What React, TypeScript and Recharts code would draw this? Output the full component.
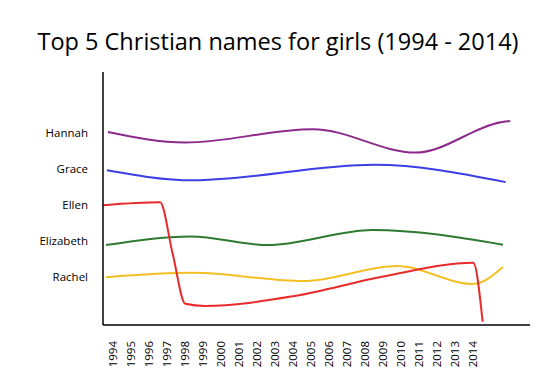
import React from 'react';
import { LineChart, Line, XAxis, YAxis } from 'recharts';

// y value 1..5 = Rachel..Hannah, lines wander around their own level
const NAMES = ['Rachel', 'Elizabeth', 'Ellen', 'Grace', 'Hannah'];
const YEAR_TICKS = [
  1994, 1995, 1996, 1997, 1998, 1999, 2000, 2001, 2002, 2003, 2004,
  2005, 2006, 2007, 2008, 2009, 2010, 2011, 2012, 2013, 2014,
];

const hannah = [
  { year: 1993.7, score: 5.03 },
  { year: 1998, score: 4.74 },
  { year: 2005.1, score: 5.11 },
  { year: 2010.8, score: 4.46 },
  { year: 2015.6, score: 5.31 },
  { year: 2016.05, score: 5.34 },
];

const grace = [
  { year: 1993.65, score: 3.97 },
  { year: 1998.4, score: 3.69 },
  { year: 2008.5, score: 4.12 },
  { year: 2015.8, score: 3.64 },
];

const ellen = [
  { year: 1993.45, score: 3.0 },
  { year: 1996.6, score: 3.08 },
  { year: 1997.3, score: 1.65 },
  { year: 1998.0, score: 0.26 },
  { year: 1999.1, score: 0.2 },
  { year: 2004, score: 0.47 },
  { year: 2009, score: 1.02 },
  { year: 2014, score: 1.4 },
  { year: 2014.52, score: -0.24 },
];

const elizabeth = [
  { year: 1993.6, score: 1.89 },
  { year: 1998.3, score: 2.13 },
  { year: 2002.6, score: 1.89 },
  { year: 2008.4, score: 2.31 },
  { year: 2015.65, score: 1.9 },
];

const rachel = [
  { year: 1993.6, score: 1.0 },
  { year: 1998.4, score: 1.12 },
  { year: 2004.6, score: 0.89 },
  { year: 2009.75, score: 1.31 },
  { year: 2014, score: 0.81 },
  { year: 2015.65, score: 1.28 },
];

const FONT = '"Open Sans", sans-serif';

const YearTick = ({ x, y, payload }: any) => (
  <text
    x={x}
    y={y + 8}
    dy="0.35em"
    textAnchor="end"
    fill="#000"
    fontSize={11.5}
    fontFamily={FONT}
    transform={`rotate(-90, ${x}, ${y + 8})`}
  >
    {payload.value}
  </text>
);

export default function App() {
  return (
    <div style={{ position: 'relative', width: 556, height: 377, background: '#fff' }}>
      <style>{`body { margin: 0; }`}</style>
      <div
        style={{
          position: 'absolute',
          top: 26,
          left: 0,
          width: 556,
          textAlign: 'center',
          fontFamily: FONT,
          fontSize: 23.5,
          lineHeight: '30px',
          color: '#000',
        }}
      >
        Top 5 Christian names for girls (1994 - 2014)
      </div>
      <LineChart
        width={556}
        height={377}
        margin={{ top: 72, right: 26, bottom: 0, left: 0 }}
      >
        <XAxis
          type="number"
          dataKey="year"
          domain={[1993.43, 2017.15]}
          ticks={YEAR_TICKS}
          interval={0}
          allowDataOverflow
          height={52}
          tickLine={false}
          axisLine={{ stroke: '#000', strokeWidth: 1.5 }}
          tick={<YearTick />}
        />
        <YAxis
          type="number"
          domain={[-0.33, 6.7]}
          ticks={[1, 2, 3, 4, 5]}
          allowDataOverflow
          width={103}
          tickLine={false}
          tickSize={0}
          tickMargin={15}
          axisLine={{ stroke: '#000', strokeWidth: 1.5 }}
          tickFormatter={(v: number) => NAMES[v - 1]}
          tick={{ fill: '#000', fontSize: 11.5, fontFamily: FONT }}
        />
        <Line data={hannah} dataKey="score" type="monotone" stroke="#8b2a8b" strokeWidth={2} dot={false} isAnimationActive={false} />
        <Line data={grace} dataKey="score" type="monotone" stroke="#3d3de6" strokeWidth={2} dot={false} isAnimationActive={false} />
        <Line data={elizabeth} dataKey="score" type="monotone" stroke="#2e7a30" strokeWidth={2} dot={false} isAnimationActive={false} />
        <Line data={rachel} dataKey="score" type="monotone" stroke="#f2c024" strokeWidth={2} dot={false} isAnimationActive={false} />
        <Line data={ellen} dataKey="score" type="monotone" stroke="#e82a2a" strokeWidth={2} dot={false} isAnimationActive={false} />
      </LineChart>
    </div>
  );
}
